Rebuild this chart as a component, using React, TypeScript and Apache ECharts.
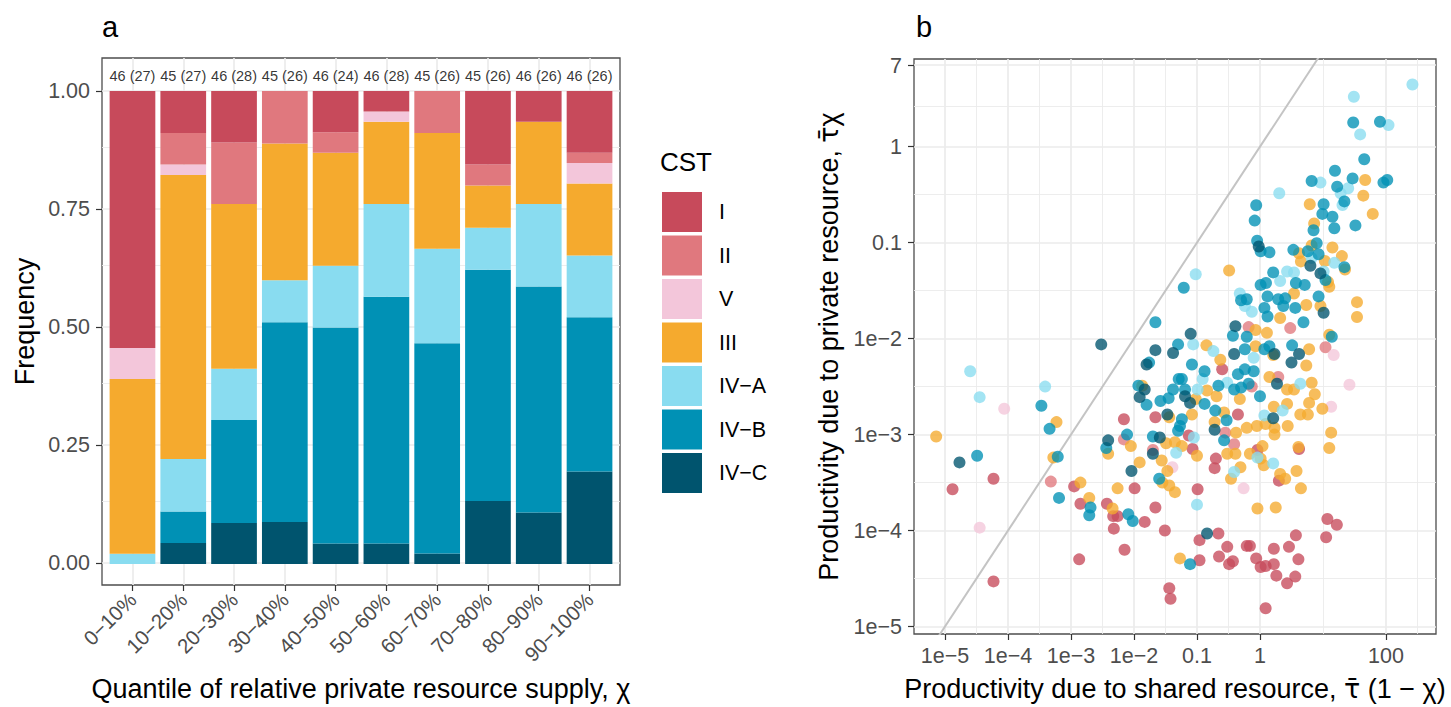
import { useEffect, useRef } from "react";
import * as echarts from "echarts";

// ---------- Panel a data ----------
const categories = ["0−10%", "10−20%", "20−30%", "30−40%", "40−50%", "50−60%", "60−70%", "70−80%", "80−90%", "90−100%"];
const totals = [46, 45, 46, 45, 46, 46, 45, 45, 46, 46];
const bracketCounts = [27, 27, 28, 26, 24, 28, 26, 26, 26, 26];
const countI = [25, 4, 5, 0, 4, 2, 0, 7, 3, 6];
const countII = [0, 3, 6, 5, 2, 0, 4, 2, 0, 1];
const countV = [3, 1, 0, 0, 0, 1, 0, 0, 0, 2];
const countIII = [17, 27, 16, 13, 11, 8, 11, 4, 8, 7];
const countIVA = [1, 5, 5, 4, 6, 9, 9, 4, 8, 6];
const countIVB = [0, 3, 10, 19, 21, 24, 20, 22, 22, 15];
const countIVC = [0, 2, 4, 4, 2, 2, 1, 6, 5, 9];

const cstNames = ["I", "II", "V", "III", "IV−A", "IV−B", "IV−C"];
const cstColors = ["#C74A5B", "#E0787E", "#F3C6DA", "#F5AA2E", "#89DCF0", "#0091B5", "#00546E"];

// ---------- Panel b data: [log10(shared productivity), log10(private productivity)] ----------
const logPtsI: [number, number][] = [
  [-4.88, -3.57], [-4.23, -3.46], [-4.23, -4.53], [-2.95, -3.54], [-2.85, -3.72], [-2.87, -4.30], [-2.43, -3.72],
  [-2.33, -3.85], [-2.26, -3.85], [-2.32, -3.98], [-2.15, -4.20], [-2.16, -2.84], [-1.99, -3.56], [-1.83, -3.91],
  [-1.66, -3.76], [-1.51, -4.0], [-0.96, -4.31], [-0.96, -4.10], [-0.99, -3.57], [-1.44, -4.60], [-1.42, -4.71],
  [-0.66, -4.03], [-0.52, -4.17], [-0.65, -4.27], [-0.49, -4.35], [-0.43, -4.32], [-0.21, -4.16], [-0.16, -4.16],
  [-0.06, -4.29], [0.01, -4.38], [0.09, -4.37], [0.22, -4.35], [0.22, -4.19], [0.26, -4.47], [0.09, -4.81],
  [0.43, -4.55], [0.56, -4.48], [0.46, -4.17], [0.57, -4.05], [0.61, -4.30], [1.05, -4.07], [1.07, -3.88],
  [1.22, -3.94], [0.30, -3.48], [-0.04, -3.16], [-0.70, -3.25], [-0.72, -3.35], [-1.07, -3.15], [-1.13, -3.01],
  [0.62, -3.15], [-0.35, -2.79], [-1.66, -2.82], [-0.60, -2.32],
];
const logPtsII: [number, number][] = [
  [-3.32, -3.49], [-2.16, -3.05], [-1.70, -3.16], [-0.55, -2.98], [-0.41, -3.10], [0.29, -2.40], [-0.13, -2.50],
  [0.48, -1.89], [1.04, -2.09], [-0.18, -1.88],
];
const logPtsV: [number, number][] = [
  [-4.06, -2.73], [-4.45, -3.97], [-0.26, -3.56], [-1.39, -3.34], [1.13, -2.71], [1.42, -2.48], [1.17, -2.17],
];
const logPtsIII: [number, number][] = [
  [1.67, -0.347], [1.64, -0.51], [1.79, -0.70], [0.79, -0.60], [0.86, -0.80], [0.82, -1.03], [1.15, -1.05],
  [1.30, -1.14], [0.62, -1.11], [0.65, -1.195], [1.03, -1.19], [1.35, -1.28], [1.10, -1.46], [1.08, -1.41],
  [-0.49, -1.29], [-0.85, -2.07], [0.54, -1.53], [0.32, -1.785], [0.735, -1.65], [0.96, -1.66], [1.54, -1.62],
  [1.54, -1.775], [1.10, -1.96], [0.78, -2.11], [0.735, -2.28], [-0.07, -1.91], [0.11, -1.94], [-0.07, -2.08],
  [0.21, -2.17], [-0.63, -2.22],
  [-5.14, -3.02], [-3.23, -2.87], [-3.28, -3.24], [-2.85, -3.50], [-2.71, -3.66], [-2.34, -3.77], [-2.41, -3.20],
  [-2.05, -3.12], [-1.91, -3.29], [-2.26, -3.56], [-1.27, -4.29], [-0.04, -3.77], [0.25, -3.76], [0.65, -3.56],
  [0.58, -3.38], [0.32, -3.41], [0.40, -3.46], [0.06, -3.32], [0.01, -3.25], [0.04, -3.12], [-0.16, -3.20],
  [-0.31, -3.34], [-0.46, -3.46], [-0.52, -3.20], [-0.39, -3.20], [-1.00, -3.22], [-1.35, -3.60], [-1.44, -3.53],
  [-1.55, -3.50], [-1.47, -3.38], [-1.56, -3.27], [-1.49, -3.09], [-1.35, -3.08], [-1.24, -3.12], [0.61, -3.13],
  [1.13, -2.98], [1.10, -3.14], [0.99, -2.73], [0.76, -2.79], [0.64, -2.79], [0.78, -2.67], [0.87, -2.58],
  [0.82, -2.46], [0.43, -2.53], [0.54, -2.53], [0.43, -2.68], [0.22, -2.71], [0.44, -2.91], [0.23, -2.93],
  [0.09, -2.89], [-0.05, -2.91], [-0.21, -2.93], [0.23, -3.0], [-0.38, -2.98], [0.15, -2.40], [-0.32, -2.63],
  [-0.57, -2.77], [-0.72, -2.87], [-0.84, -2.54], [-0.69, -2.60], [-1.02, -2.63], [-1.08, -2.79], [-1.44, -2.82],
  [-1.87, -2.49],
];
const logPtsIVA: [number, number][] = [
  [2.42, 0.648], [1.49, 0.52], [1.59, 0.128], [2.04, 0.225], [0.96, -0.374], [1.28, -0.485], [1.40, -0.433],
  [1.31, -0.607], [0.306, -0.485], [0.82, -1.16], [1.18, -1.21], [1.01, -1.30], [-1.02, -1.33], [-1.06, -2.06],
  [0.43, -1.30], [0.54, -1.31], [0.32, -1.40], [-0.32, -1.53], [-0.24, -1.66], [-0.13, -1.72], [-0.74, -2.13],
  [-0.10, -2.20],
  [-4.60, -2.34], [-4.45, -2.61], [-3.41, -2.50], [-1.00, -3.73], [0.21, -3.30], [-0.04, -3.24], [-0.41, -3.39],
  [-1.05, -3.03], [-1.33, -3.19], [0.36, -2.75], [0.07, -2.80], [0.64, -2.47], [-0.99, -2.53], [-0.91, -2.42],
  [-0.52, -2.46],
];
const logPtsIVB: [number, number][] = [
  [1.48, 0.253], [1.905, 0.26], [1.655, -0.13], [1.19, -0.25], [0.82, -0.357], [1.47, -0.33], [1.96, -0.374],
  [2.02, -0.347], [1.225, -0.416], [1.34, -0.57], [-0.06, -0.61], [-0.084, -0.77], [1.01, -0.60], [0.99, -0.70],
  [1.15, -0.73], [1.18, -0.85], [1.515, -0.82], [0.85, -0.87], [0.90, -1.005], [-0.045, -0.98], [0.01, -1.09],
  [0.15, -1.10], [0.53, -1.075], [0.76, -1.09], [0.93, -1.12], [1.34, -1.255], [1.04, -1.39], [-1.21, -1.47],
  [-1.66, -1.83], [-1.30, -2.06], [0.21, -1.31], [0.01, -1.44], [0.095, -1.42], [0.12, -1.56], [0.57, -1.42],
  [0.71, -1.44], [0.29, -1.59], [0.40, -1.58], [-0.30, -1.60], [-0.21, -1.59], [0.07, -1.68], [0.12, -1.77],
  [0.37, -1.66], [0.56, -1.68], [0.69, -1.83], [0.93, -1.56], [1.14, -1.98], [-0.43, -1.97], [-0.21, -1.98],
  [0.07, -2.11], [-0.24, -2.11], [0.51, -2.07], [0.15, -2.08], [-1.76, -2.25],
  [-4.49, -3.22], [-3.47, -2.70], [-3.34, -2.94], [-3.21, -3.23], [-3.19, -3.66], [-2.69, -3.76], [-2.71, -3.84],
  [-2.44, -3.14], [-2.11, -3.00], [-2.09, -3.83], [-2.02, -3.90], [-1.11, -4.35], [-1.60, -3.46], [-1.70, -3.02],
  [-0.57, -3.06], [0.0, -2.60], [-0.71, -2.75], [-0.88, -2.68], [-1.24, -2.84], [-1.27, -2.91], [-1.30, -2.96],
  [-1.80, -2.69], [-1.93, -2.49], [-1.58, -2.65], [-1.45, -2.62], [-1.29, -2.42], [-1.24, -2.42], [-1.38, -2.53],
  [-1.19, -2.53], [-0.88, -2.34], [-1.08, -2.27], [-0.66, -2.49], [-0.41, -2.53], [-0.30, -2.51], [-0.18, -2.47],
  [-0.35, -2.37], [-0.24, -2.32], [-0.10, -2.34], [-0.53, -2.85],
];
const logPtsIVC: [number, number][] = [
  [-0.02, -1.04], [0.80, -1.24], [0.96, -1.32], [1.01, -1.73], [-2.52, -2.06], [-1.10, -1.95], [-1.66, -2.12],
  [-1.38, -2.15], [0.62, -2.16], [0.50, -2.25], [-0.39, -1.87], [0.23, -2.16], [-0.41, -2.16], [-1.80, -2.27],
  [-4.77, -3.29], [-2.41, -3.06], [-2.04, -3.38], [-0.84, -4.03], [-1.70, -3.20], [-1.59, -3.03], [0.21, -2.83],
  [0.27, -2.47], [-1.11, -2.67], [-1.19, -2.60], [-1.47, -2.79], [-1.91, -2.61], [-1.83, -2.53], [-0.72, -2.95],
];

// ---------- Axis ticks ----------
const aYTicks = [0, 0.25, 0.5, 0.75, 1];
const aYMinor = [0.125, 0.375, 0.625, 0.875];
const bXTickValues = [-5, -4, -3, -2, -1, 0, 2];
const bXTickLabels = ["1e−5", "1e−4", "1e−3", "1e−2", "0.1", "1", "100"];
const bXMinor = [-4.5, -3.5, -2.5, -1.5, -0.5, 1, 2.5];
const bYTickValues = [-5, -4, -3, -2, -1, 0, Math.log10(7)];
const bYTickLabels = ["1e−5", "1e−4", "1e−3", "1e−2", "0.1", "1", "7"];
const bYMinor = [-4.5, -3.5, -2.5, -1.5, -0.5, Math.log10(7) / 2];
const identityRange = [-6, 3];

const FONT = "'Liberation Sans', Arial, Helvetica, sans-serif";
const TICK_COLOR = "#333333";
const LABEL_COLOR = "#4D4D4D";
const GRID_COLOR = "#EBEBEB";

function matchLabel(vals: number[], labels: string[]) {
  return (v: number) => {
    const i = vals.findIndex((t) => Math.abs(t - v) < 1e-6);
    return i >= 0 ? labels[i] : "";
  };
}

function buildOption() {
  const stackOrder = [6, 5, 4, 3, 2, 1, 0]; // bottom to top: IV-C, IV-B, IV-A, III, V, II, I
  const countsByCst = [countI, countII, countV, countIII, countIVA, countIVB, countIVC];
  const ptsByCst = [logPtsI, logPtsII, logPtsV, logPtsIII, logPtsIVA, logPtsIVB, logPtsIVC];

  const axisTick = { show: true, length: 6, lineStyle: { color: TICK_COLOR, width: 1.2 } };
  const axisLine = { show: false, onZero: false };
  const nameStyle = {
    fontSize: 27,
    color: "#000",
    fontFamily: FONT,
    rich: { tau: { fontSize: 27, color: "#000", fontFamily: "'DejaVu Sans', sans-serif" } },
  };

  const aMin = 0.4;
  const aMax = 10.6;
  const gridA = { left: 102, top: 58, width: 518, height: 528 };
  const unitA = gridA.width / (aMax - aMin);
  // bar grid: exactly the 10 category bands inside panel a
  const gridBars = { left: gridA.left + (0.5 - aMin) * unitA, top: gridA.top, width: unitA * 10, height: gridA.height };
  const gridB = { left: 914, top: 59, width: 522, height: 577 };
  const aYMin = -0.0465;
  const aYMax = 1.0698;

  const majorLine = { color: GRID_COLOR, width: 1.7, type: "solid" };
  const minorLine = { color: GRID_COLOR, width: 0.9, type: "solid" };

  const markA = {
    silent: true,
    z: 1,
    symbol: ["none", "none"],
    label: { show: false },
    lineStyle: majorLine,
    emphasis: { disabled: true },
    data: [
      ...categories.map((_, i) => ({ xAxis: i + 1, lineStyle: majorLine })),
      ...aYTicks.map((v) => ({ yAxis: v, lineStyle: majorLine })),
      ...aYMinor.map((v) => ({ yAxis: v, lineStyle: minorLine })),
    ],
  };
  const markB = {
    silent: true,
    z: 1,
    symbol: ["none", "none"],
    label: { show: false },
    lineStyle: majorLine,
    emphasis: { disabled: true },
    data: [
      ...bXTickValues.map((v) => ({ xAxis: v, lineStyle: majorLine })),
      ...bXMinor.map((v) => ({ xAxis: v, lineStyle: minorLine })),
      ...bYTickValues.map((v) => ({ yAxis: v, lineStyle: majorLine })),
      ...bYMinor.map((v) => ({ yAxis: v, lineStyle: minorLine })),
    ],
  };

  const topLabelY = 1.032;

  const series: any[] = [];
  // stacked bars (category axis in grid 2) — first, so legend takes their colours
  stackOrder.forEach((k) => {
    series.push({
      name: cstNames[k],
      type: "bar",
      xAxisIndex: 2,
      yAxisIndex: 2,
      stack: "freq",
      barWidth: "90%",
      z: 2,
      itemStyle: { color: cstColors[k] },
      emphasis: { disabled: true },
      data: countsByCst[k].map((c, i) => c / totals[i]),
    });
  });
  // count labels above bars + grid lines of panel a
  series.push({
    name: "counts",
    type: "scatter",
    xAxisIndex: 0,
    yAxisIndex: 0,
    symbolSize: 0,
    z: 3,
    silent: true,
    data: totals.map((_, i) => [i + 1, topLabelY]),
    label: {
      show: true,
      position: "inside",
      fontSize: 14.5,
      color: "#000",
      fontFamily: FONT,
      formatter: (p: any) => `${totals[p.dataIndex]} (${bracketCounts[p.dataIndex]})`,
    },
    markLine: markA,
  });
  // identity line + grid lines of panel b
  series.push({
    name: "identity",
    type: "line",
    xAxisIndex: 1,
    yAxisIndex: 1,
    showSymbol: false,
    silent: true,
    clip: true,
    z: 2,
    lineStyle: { color: "#C4C4C4", width: 2 },
    data: identityRange.map((v) => [v, v]),
    markLine: markB,
  });
  // scatter points
  [0, 1, 2, 3, 4, 5, 6].forEach((k) => {
    series.push({
      name: cstNames[k] + " (b)",
      type: "scatter",
      xAxisIndex: 1,
      yAxisIndex: 1,
      symbolSize: 12,
      z: 3,
      itemStyle: { color: cstColors[k], opacity: 0.78 },
      emphasis: { disabled: true },
      data: ptsByCst[k],
    });
  });

  return {
    animation: false,
    backgroundColor: "#ffffff",
    textStyle: { fontFamily: FONT },
    grid: [
      { ...gridA, show: true, borderColor: "#4D4D4D", borderWidth: 1.3, backgroundColor: "transparent", containLabel: false },
      { ...gridB, show: true, borderColor: "#4D4D4D", borderWidth: 1.3, backgroundColor: "transparent", containLabel: false },
      { ...gridBars, show: false, containLabel: false },
    ],
    legend: {
      data: cstNames,
      orient: "vertical",
      left: 662,
      top: 192,
      padding: 0,
      icon: "rect",
      itemWidth: 40,
      itemHeight: 40,
      itemGap: 3.5,
      selectedMode: false,
      itemStyle: { borderWidth: 0 },
      textStyle: { fontSize: 21.5, color: "#000", fontFamily: FONT, padding: [0, 0, 0, 12] },
    },
    graphic: [
      { type: "text", left: 102, top: 12, style: { text: "a", fontSize: 29, fill: "#000", fontFamily: FONT } },
      { type: "text", left: 916, top: 12, style: { text: "b", fontSize: 29, fill: "#000", fontFamily: FONT } },
      { type: "text", left: 660, top: 149, style: { text: "CST", fontSize: 26, fill: "#000", fontFamily: FONT } },
    ],
    xAxis: [
      {
        gridIndex: 0,
        type: "value",
        min: aMin,
        max: aMax,
        axisLine,
        splitLine: { show: false },
        axisTick: { ...axisTick, customValues: categories.map((_, i) => i + 1) },
        axisLabel: {
          customValues: categories.map((_, i) => i + 1),
          formatter: (v: number) => categories[Math.round(v) - 1] ?? "",
          rotate: 45,
          fontSize: 20.5,
          color: LABEL_COLOR,
          margin: 11,
          fontFamily: FONT,
        },
        name: "Quantile of relative private resource supply, χ",
        nameLocation: "middle",
        nameGap: 90,
        nameTextStyle: nameStyle,
      },
      {
        gridIndex: 1,
        type: "value",
        min: -5.492,
        max: 2.794,
        axisLine,
        splitLine: { show: false },
        axisTick: { ...axisTick, customValues: bXTickValues },
        axisLabel: {
          customValues: bXTickValues,
          formatter: matchLabel(bXTickValues, bXTickLabels),
          fontSize: 21.5,
          color: LABEL_COLOR,
          margin: 11,
          fontFamily: FONT,
        },
        name: "Productivity due to shared resource, {tau|τ̄} (1 − χ)",
        nameLocation: "middle",
        nameGap: 41,
        nameTextStyle: nameStyle,
      },
      {
        gridIndex: 2,
        type: "category",
        data: categories,
        boundaryGap: true,
        show: false,
      },
    ],
    yAxis: [
      {
        gridIndex: 0,
        type: "value",
        min: aYMin,
        max: aYMax,
        axisLine,
        splitLine: { show: false },
        axisTick: { ...axisTick, customValues: aYTicks },
        axisLabel: {
          customValues: aYTicks,
          formatter: (v: number) => v.toFixed(2),
          fontSize: 21.5,
          color: LABEL_COLOR,
          margin: 12,
          fontFamily: FONT,
        },
        name: "Frequency",
        nameLocation: "middle",
        nameGap: 64,
        nameTextStyle: nameStyle,
      },
      {
        gridIndex: 1,
        type: "value",
        min: -5.078,
        max: 0.914,
        axisLine,
        splitLine: { show: false },
        axisTick: { ...axisTick, customValues: bYTickValues },
        axisLabel: {
          customValues: bYTickValues,
          formatter: matchLabel(bYTickValues, bYTickLabels),
          fontSize: 21.5,
          color: LABEL_COLOR,
          margin: 12,
          fontFamily: FONT,
        },
        name: "Productivity due to private resource, {tau|τ̄}χ",
        nameLocation: "middle",
        nameGap: 72,
        nameTextStyle: nameStyle,
      },
      {
        gridIndex: 2,
        type: "value",
        min: aYMin,
        max: aYMax,
        show: false,
        splitLine: { show: false },
      },
    ],
    series,
  };
}

export default function App() {
  const ref = useRef<HTMLDivElement>(null);
  useEffect(() => {
    if (!ref.current) return;
    const chart = echarts.init(ref.current, null, { renderer: "svg" });
    chart.setOption(buildOption() as any);
    return () => chart.dispose();
  }, []);
  return (
    <div
      ref={ref}
      style={{ position: "absolute", left: 0, top: 0, width: 1451, height: 707, background: "#fff" }}
    />
  );
}
